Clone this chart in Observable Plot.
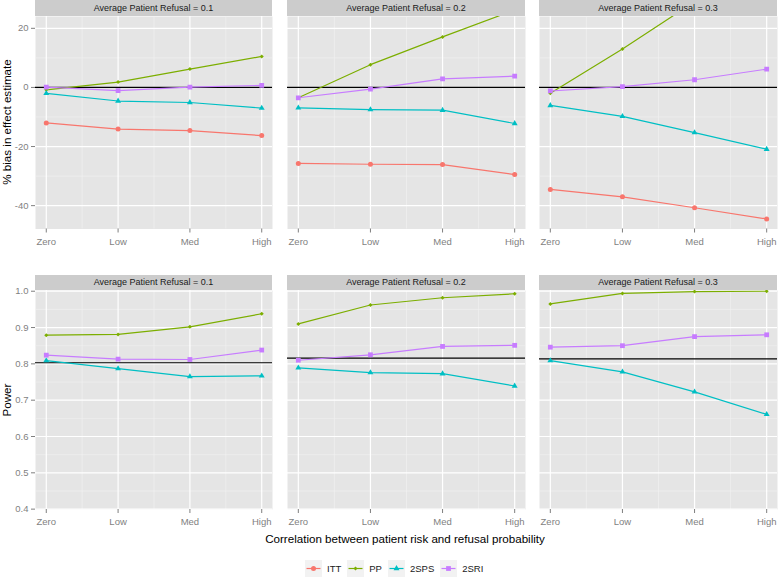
<!DOCTYPE html>
<html>
<head>
<meta charset="utf-8">
<script src="https://cdn.jsdelivr.net/npm/d3@7"></script>
<script src="https://cdn.jsdelivr.net/npm/@observablehq/plot@0.6"></script>
<style>
  html, body { margin: 0; padding: 0; background: #ffffff; overflow: hidden; }
  #chart { position: relative; width: 778px; height: 585px; overflow: hidden;
           font-family: "Liberation Sans", Arial, sans-serif; }
  .strip { position: absolute; background: #CCCCCC; color: #1A1A1A; font-size: 9px;
           text-align: center; white-space: nowrap; }
  #legend { position: absolute; left: 305px; top: 560px; height: 17px; display: flex;
            align-items: center; font-size: 9.5px; color: #1A1A1A; }
  #legend .item { display: flex; align-items: center; margin-right: 6px; }
  #legend svg { display: block; margin-right: 5px; }
</style>
</head>
<body>
<div id="chart"></div>
<script>
// ---------------- data ----------------
const levels = ["Zero", "Low", "Med", "High"];
const methods = ["ITT", "PP", "2SPS", "2SRI"];
const refusals = ["0.1", "0.2", "0.3"];
const methodColors = ["#F8766D", "#7CAE00", "#00BFC4", "#C77CFF"];

// % bias in effect estimate, one row per refusal level (0.1, 0.2, 0.3), values at Zero/Low/Med/High
const biasITT  = [[-12.0, -14.1, -14.6, -16.3], [-25.7, -26.0, -26.1, -29.5], [-34.5, -37.0, -40.7, -44.5]];
const biasPP   = [[-0.8, 1.8, 6.2, 10.5], [-3.5, 7.7, 17.1, 26.2], [-2.0, 13.0, 29.0, 36.0]];
const bias2SPS = [[-2.0, -4.6, -5.1, -7.0], [-6.9, -7.5, -7.7, -12.2], [-6.1, -9.8, -15.3, -20.9]];
const bias2SRI = [[0.1, -1.1, 0.1, 0.7], [-3.5, -0.6, 2.9, 3.8], [-1.2, 0.3, 2.6, 6.2]];

// Power
const powerPP   = [[0.879, 0.881, 0.902, 0.938], [0.910, 0.962, 0.982, 0.993], [0.965, 0.994, 0.999, 1.000]];
const power2SPS = [[0.809, 0.787, 0.765, 0.767], [0.789, 0.776, 0.773, 0.739], [0.809, 0.778, 0.723, 0.661]];
const power2SRI = [[0.824, 0.813, 0.812, 0.838], [0.810, 0.825, 0.848, 0.851], [0.846, 0.850, 0.875, 0.880]];

// reference lines
const biasTarget = [0, 0, 0];
const powerTarget = [0.803, 0.816, 0.814];

// tick values
const biasTicks = [-40, -20, 0, 20];
const biasMinor = [-30, -10, 10];
const powerTicks = [0.4, 0.5, 0.6, 0.7, 0.8, 0.9, 1.0];
const powerMinor = [0.45, 0.55, 0.65, 0.75, 0.85, 0.95];
const xTicks = [0, 1, 2, 3];
const xMinor = [0.5, 1.5, 2.5];

const biasSeries = {"ITT": biasITT, "PP": biasPP, "2SPS": bias2SPS, "2SRI": bias2SRI};
const powerSeries = {"PP": powerPP, "2SPS": power2SPS, "2SRI": power2SRI};

// ---------------- styling ----------------
const diamondSymbol = {
  draw(ctx, size) {
    const r = Math.sqrt(size / 2);
    ctx.moveTo(0, -r); ctx.lineTo(r, 0); ctx.lineTo(0, r); ctx.lineTo(-r, 0); ctx.closePath();
  }
};
const methodSymbols = {"ITT": "circle", "PP": diamondSymbol, "2SPS": "triangle", "2SRI": "square"};
const d3Symbols = {"ITT": d3.symbolCircle, "PP": diamondSymbol, "2SPS": d3.symbolTriangle, "2SRI": d3.symbolSquare};
const methodR = {"ITT": 2.5, "PP": 1.6, "2SPS": 2.2, "2SRI": 2.7};
const colorOf = m => methodColors[methods.indexOf(m)];

const container = document.getElementById("chart");
const panelX = [[35, 272], [287, 525], [539, 777]];
const rows = [
  {stripTop: 0, plotTop: 16, plotBottom: 228.5, domain: [-47.9, 24.0], ticks: biasTicks, minor: biasMinor,
   fmt: d => String(d), target: biasTarget, series: biasSeries},
  {stripTop: 275, plotTop: 290, plotBottom: 509, domain: [0.399, 1.002], ticks: powerTicks, minor: powerMinor,
   fmt: d3.format(".1f"), target: powerTarget, series: powerSeries}
];

const ML = 35, MR = 12, MB = 30;

rows.forEach(row => {
  panelX.forEach(([x0, x1], c) => {
    const data = methods.flatMap(m => row.series[m]
      ? row.series[m][c].map((v, i) => ({method: m, i, v}))
      : []);
    const pw = x1 - x0, ph = row.plotBottom - row.plotTop;
    const marks = [
      Plot.frame({fill: "#E5E5E5", stroke: "none"}),
      Plot.gridX(xMinor, {stroke: "#F2F2F2", strokeOpacity: 1, strokeWidth: 0.6}),
      Plot.gridY(row.minor, {stroke: "#F2F2F2", strokeOpacity: 1, strokeWidth: 0.6}),
      Plot.gridX(xTicks, {stroke: "#FFFFFF", strokeOpacity: 1, strokeWidth: 1.2}),
      Plot.gridY(row.ticks, {stroke: "#FFFFFF", strokeOpacity: 1, strokeWidth: 1.2}),
      Plot.ruleY([row.target[c]], {stroke: "black", strokeWidth: 1.2}),
      Plot.line(data, {x: "i", y: "v", z: "method", stroke: "method", strokeWidth: 1.2, clip: true}),
      ...methods.map(m => Plot.dot(data, {
        filter: d => d.method === m, x: "i", y: "v",
        fill: colorOf(m), symbol: methodSymbols[m], r: methodR[m], clip: true
      })),
      Plot.axisX(xTicks, {tickFormat: i => levels[i], tickSize: 4, tickPadding: 5, fontSize: 9.5})
    ];
    if (c === 0) {
      marks.push(Plot.axisY(row.ticks, {tickFormat: row.fmt, tickSize: 4, tickPadding: 3, fontSize: 9.5}));
    }
    const chart = Plot.plot({
      width: pw + ML + MR,
      height: ph + MB,
      marginLeft: ML, marginRight: MR, marginTop: 0, marginBottom: MB,
      x: {domain: [-0.15, 3.15], label: null},
      y: {domain: row.domain, label: null, axis: c === 0 ? undefined : null},
      color: {domain: methods, range: methodColors},
      style: {background: "transparent", overflow: "visible",
              fontFamily: "Liberation Sans, Arial, sans-serif", fontSize: "9.5px", color: "#7F7F7F"},
      marks
    });
    chart.style.position = "absolute";
    chart.style.left = (x0 - ML) + "px";
    chart.style.top = row.plotTop + "px";
    container.appendChild(chart);

    const strip = document.createElement("div");
    strip.className = "strip";
    strip.style.left = x0 + "px";
    strip.style.top = row.stripTop + "px";
    strip.style.width = pw + "px";
    const sh = row.plotTop - row.stripTop;
    strip.style.height = sh + "px";
    strip.style.lineHeight = sh + "px";
    strip.textContent = "Average Patient Refusal = " + refusals[c];
    container.appendChild(strip);
  });
});

// ---------------- titles ----------------
const titles = d3.create("svg")
  .attr("width", 778).attr("height", 585)
  .style("position", "absolute").style("left", "0px").style("top", "0px")
  .style("pointer-events", "none")
  .style("font-family", "Liberation Sans, Arial, sans-serif");
titles.append("text")
  .attr("transform", "translate(10.5,122) rotate(-90)")
  .attr("text-anchor", "middle").attr("font-size", 11.6).attr("fill", "black")
  .text("% bias in effect estimate");
titles.append("text")
  .attr("transform", "translate(10.5,400) rotate(-90)")
  .attr("text-anchor", "middle").attr("font-size", 11.6).attr("fill", "black")
  .text("Power");
titles.append("text")
  .attr("x", 405).attr("y", 542.5)
  .attr("text-anchor", "middle").attr("font-size", 11.6).attr("fill", "black")
  .text("Correlation between patient risk and refusal probability");
container.appendChild(titles.node());

// ---------------- legend ----------------
const legend = document.createElement("div");
legend.id = "legend";
methods.forEach(m => {
  const item = document.createElement("div");
  item.className = "item";
  const key = d3.create("svg").attr("width", 17).attr("height", 17);
  key.append("rect").attr("width", 17).attr("height", 17).attr("fill", "#F2F2F2");
  key.append("line").attr("x1", 1.5).attr("x2", 15.5).attr("y1", 8.5).attr("y2", 8.5)
    .attr("stroke", colorOf(m)).attr("stroke-width", 1.2);
  key.append("path")
    .attr("d", d3.symbol().type(d3Symbols[m]).size(Math.PI * methodR[m] * methodR[m])())
    .attr("transform", "translate(8.5,8.5)").attr("fill", colorOf(m));
  item.appendChild(key.node());
  const label = document.createElement("span");
  label.textContent = m;
  item.appendChild(label);
  legend.appendChild(item);
});
container.appendChild(legend);
</script>
</body>
</html>
